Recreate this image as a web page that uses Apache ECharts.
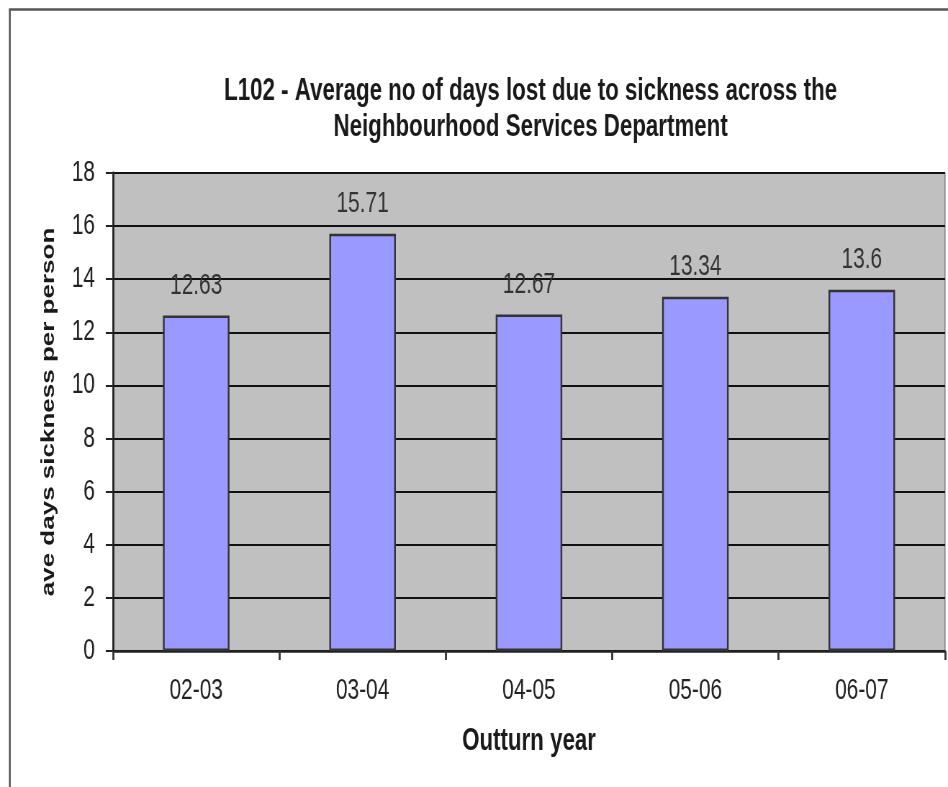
<!DOCTYPE html>
<html>
<head>
<meta charset="utf-8">
<script src="https://cdn.jsdelivr.net/npm/echarts@6/dist/echarts.min.js"></script>
<style>
html,body{margin:0;padding:0;background:#fff;overflow:hidden;width:948px;height:787px;}
#c{width:1317px;height:787px;transform:scaleX(0.7198);transform-origin:0 0;}
</style>
</head>
<body>
<div id="c"></div>
<script>
const categories = ['02-03', '03-04', '04-05', '05-06', '06-07'];
const values = [12.63, 15.71, 12.67, 13.34, 13.6];
const yTicks = [0, 2, 4, 6, 8, 10, 12, 14, 16, 18];
const titleText = 'L102 - Average no of days lost due to sickness across the\nNeighbourhood Services Department';
const yName = 'ave days sickness per person';
const xName = 'Outturn year';

// The reference is a horizontally condensed picture; the chart is drawn wider and squeezed by CSS.
const S = 0.7198;
const FONT = '"Liberation Sans", Arial, sans-serif';
const chart = echarts.init(document.getElementById('c'), null, {renderer: 'canvas'});
chart.setOption({
  animation: false,
  backgroundColor: '#fff',
  graphic: [{
    type: 'rect', left: 8 / S, top: 7,
    shape: {x: 0, y: 0, width: 1400, height: 800},
    style: {fill: 'none', stroke: '#555', lineWidth: 2.6},
    z: 100
  }],
  title: {
    text: titleText,
    left: 527 / S, top: 68, textAlign: 'center',
    textStyle: {fontFamily: FONT, fontWeight: 'bold', fontSize: 31, color: '#1a1a1a', lineHeight: 36}
  },
  grid: {left: 113 / S, top: 173, right: 3 / S, bottom: 136, show: true, backgroundColor: '#c0c0c0', borderColor: '#808080', borderWidth: 1.5},
  xAxis: {
    type: 'category', data: categories,
    name: xName, nameLocation: 'middle', nameGap: 75,
    nameTextStyle: {fontFamily: FONT, fontWeight: 'bold', fontSize: 31, color: '#1a1a1a'},
    axisLine: {lineStyle: {color: '#222', width: 2.5}},
    axisTick: {show: true, length: 9, lineStyle: {color: '#333', width: 2.8}},
    axisLabel: {fontFamily: FONT, fontSize: 29, color: '#222', margin: 25}
  },
  yAxis: {
    type: 'value', min: 0, max: 18, interval: 2,
    name: yName, nameLocation: 'middle', nameGap: 76,
    nameTextStyle: {fontFamily: FONT, fontWeight: 'bold', fontSize: 26, color: '#1a1a1a'},
    axisLine: {show: true, lineStyle: {color: '#222', width: 2.8}},
    axisTick: {show: true, length: 10, lineStyle: {color: '#222', width: 2}},
    axisLabel: {fontFamily: FONT, fontSize: 29, color: '#222', margin: 25,
      formatter: v => yTicks.includes(v) ? String(v) : ''},
    splitLine: {show: true, lineStyle: {color: '#111', width: 1.8}}
  },
  series: [{
    type: 'bar', data: values,
    barWidth: '40%',
    itemStyle: {color: '#9999ff', borderColor: '#333', borderWidth: 2.4},
    label: {show: true, position: 'top', distance: 15, fontFamily: FONT, fontSize: 29, color: '#333'}
  }]
});
</script>
</body>
</html>
